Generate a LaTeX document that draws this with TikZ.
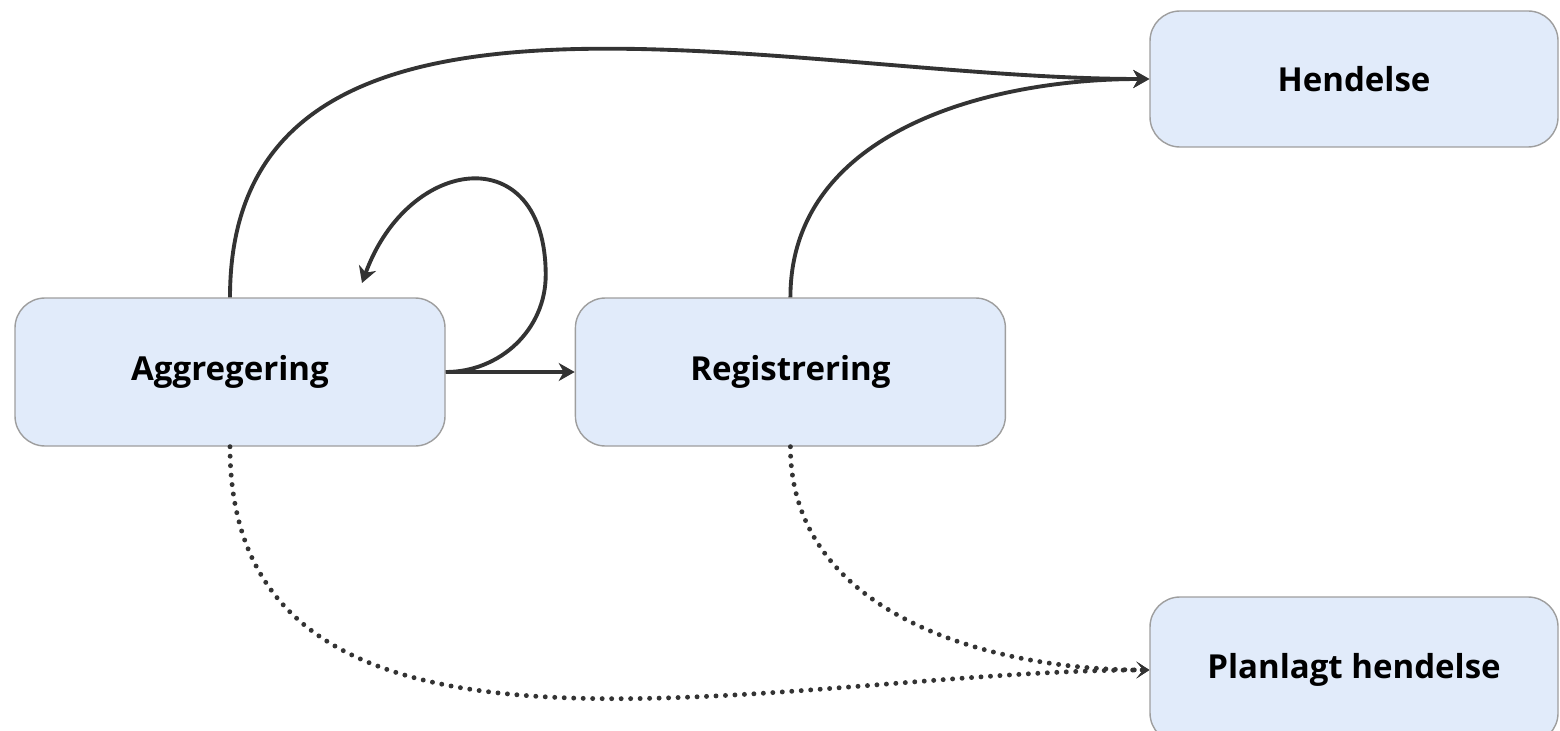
\documentclass[tikz,border=0pt]{standalone}
\usepackage{fontspec}
\setmainfont{Open Sans}
\usetikzlibrary{positioning}
\usetikzlibrary{arrows.meta}

\definecolor{boxfill}{HTML}{E1EBFA}
\definecolor{boxline}{HTML}{9E9E9E}
\definecolor{arrowgray}{HTML}{333333}

\begin{document}
\begin{tikzpicture}[
    block/.style={rectangle, rounded corners=0.3cm, draw=boxline, line width=0.4pt, fill=boxfill, minimum width=4.3cm, minimum height=1.48cm, font=\fontsize{9.4}{11}\selectfont\bfseries},
    event/.style={block, minimum width=4.08cm, minimum height=1.36cm},
    flow/.style={draw=arrowgray, line width=1.1pt, -{Stealth[length=1.6mm, width=1.8mm, inset=0.5mm]}},
    dotflow/.style={flow, line width=1.4pt, line cap=round, dash pattern=on 0pt off 2.7pt, -{Stealth[length=1.3mm, width=1.7mm, inset=0.7mm]}},
]
    \useasboundingbox (0,0) rectangle (15.6,7.3);

    \node[block] (agg) at (2.30,3.58) {Aggregering};
    \node[block] (reg) [right=1.29cm of agg] {Registrering};

    \node[event] (hend) at (13.54,6.51) {Hendelse};
    \node[event, minimum height=1.46cm] (plan) at (13.54,0.60) {Planlagt hendelse};

    \coordinate (loopend) at (3.62,4.47);

    \draw[flow] (agg.east) -- (reg.west);
    \draw[flow] (agg.east) to[out=0,in=-90] ++(1.0,0.97) to[out=90,in=70,looseness=1.9] (loopend);

    \draw[flow] (agg.north) to[out=90,in=180] (hend.west);
    \draw[flow] (reg.north) to[out=90,in=180] (hend.west);

    \draw[dotflow] (agg.south) to[out=-90,in=180] (plan.west);
    \draw[dotflow] (reg.south) to[out=-90,in=180] (plan.west);
\end{tikzpicture}
\end{document}
